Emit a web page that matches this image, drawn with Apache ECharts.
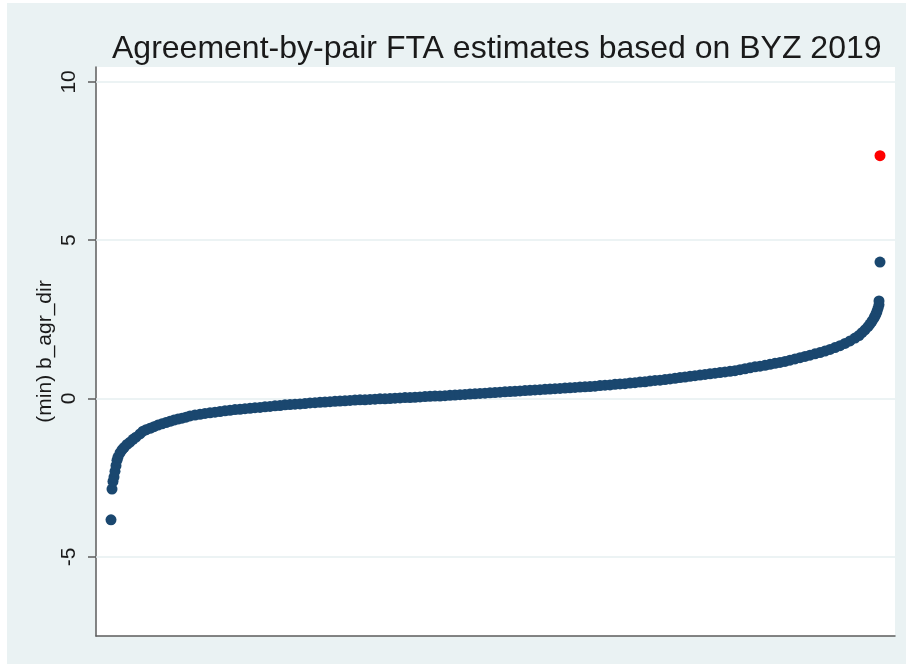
<!DOCTYPE html>
<html>
<head>
<meta charset="utf-8">
<script src="https://cdn.jsdelivr.net/npm/echarts@6/dist/echarts.min.js"></script>
<style>
  body { margin: 0; background: #fff; }
  #main { position: absolute; left: 7px; top: 3px; width: 899px; height: 661px; }
</style>
</head>
<body>
<div id="main"></div>
<script>
// rank of each estimate (sorted ascending) and its value
var ranks = [1, 2, 3, 4, 5, 6, 7, 8, 10, 12, 14, 17, 20, 23, 26, 30, 33, 36, 40, 44,
    48, 52, 56, 60, 64, 68, 72, 76, 80, 85, 90, 95, 100, 105, 110, 115, 120, 125, 130, 135,
    140, 145, 150, 155, 160, 165, 170, 175, 180, 185, 190, 195, 200, 205, 210, 215, 220, 225, 230, 235,
    240, 245, 250, 255, 260, 265, 270, 275, 280, 285, 290, 295, 300, 305, 310, 315, 320, 325, 330, 335,
    340, 345, 350, 355, 360, 365, 370, 375, 380, 385, 390, 395, 400, 405, 410, 415, 420, 425, 430, 435,
    440, 445, 450, 455, 460, 465, 470, 475, 480, 485, 490, 495, 500, 505, 510, 515, 520, 525, 530, 535,
    540, 545, 550, 555, 560, 565, 570, 575, 580, 585, 590, 595, 600, 605, 610, 615, 620, 625, 630, 635,
    640, 645, 650, 655, 660, 665, 670, 675, 680, 685, 690, 695, 700, 705, 710, 715, 720, 725, 730, 735,
    740, 745, 749, 752, 755, 758, 760, 762, 764, 765, 766, 767, 768, 769, 769, 770];
var values = [-3.83, -2.86, -2.62, -2.48, -2.30, -2.12, -1.95, -1.85, -1.72, -1.62, -1.55, -1.45, -1.38, -1.29, -1.22, -1.12, -1.03, -0.99, -0.94, -0.89,
    -0.84, -0.80, -0.76, -0.72, -0.68, -0.65, -0.62, -0.59, -0.55, -0.52, -0.50, -0.47, -0.45, -0.43, -0.41, -0.39, -0.37, -0.35, -0.34, -0.32,
    -0.31, -0.29, -0.28, -0.26, -0.25, -0.23, -0.22, -0.20, -0.19, -0.18, -0.17, -0.16, -0.14, -0.13, -0.12, -0.11, -0.10, -0.09, -0.08, -0.07,
    -0.06, -0.05, -0.04, -0.04, -0.03, -0.02, -0.01, -0.01, 0.00, 0.01, 0.02, 0.03, 0.03, 0.04, 0.05, 0.06, 0.07, 0.08, 0.08, 0.09,
    0.10, 0.11, 0.12, 0.13, 0.14, 0.15, 0.16, 0.17, 0.18, 0.19, 0.20, 0.21, 0.22, 0.23, 0.24, 0.25, 0.26, 0.27, 0.28, 0.29,
    0.30, 0.31, 0.32, 0.33, 0.34, 0.35, 0.36, 0.37, 0.38, 0.39, 0.41, 0.42, 0.43, 0.45, 0.46, 0.47, 0.49, 0.50, 0.52, 0.53,
    0.55, 0.57, 0.58, 0.60, 0.62, 0.64, 0.66, 0.68, 0.70, 0.72, 0.74, 0.76, 0.78, 0.80, 0.82, 0.84, 0.86, 0.88, 0.91, 0.94,
    0.97, 1.00, 1.02, 1.05, 1.08, 1.11, 1.14, 1.17, 1.21, 1.25, 1.29, 1.33, 1.37, 1.41, 1.45, 1.50, 1.55, 1.61, 1.67, 1.74,
    1.82, 1.91, 1.99, 2.08, 2.17, 2.27, 2.35, 2.44, 2.54, 2.60, 2.67, 2.75, 2.85, 2.96, 3.08, 4.31];
// highlighted estimate
var hiRanks = [770];
var hiValues = [7.67];
var yTicks = [-5, 0, 5, 10];

var navy = '#1A476F';
var ink = '#1a1a1a';

var mainData = [];
for (var i = 0; i < ranks.length; i++) {
    mainData.push([ranks[i], values[i]]);
}
var hiData = [];
for (var j = 0; j < hiRanks.length; j++) {
    hiData.push([hiRanks[j], hiValues[j]]);
}
var gridLines = yTicks.map(function (v) { return { yAxis: v }; });

var chart = echarts.init(document.getElementById('main'));
chart.setOption({
    backgroundColor: '#EAF2F3',
    animation: false,
    title: {
        text: 'Agreement-by-pair FTA estimates based on BYZ 2019',
        left: 100,
        top: 25,
        textStyle: {
            fontFamily: 'Liberation Sans',
            fontSize: 32,
            fontWeight: 'normal',
            color: ink
        }
    },
    grid: {
        left: 89,
        top: 64,
        width: 799,
        height: 569,
        show: true,
        backgroundColor: '#ffffff',
        borderWidth: 0
    },
    xAxis: {
        type: 'value',
        min: -14,
        max: 785,
        axisLine: { show: true, onZero: false, lineStyle: { color: '#5c5c5c', width: 1.5 } },
        axisTick: { show: false },
        axisLabel: { show: false },
        splitLine: { show: false }
    },
    yAxis: {
        type: 'value',
        min: -7.5,
        max: 10.47,
        name: '(min) b_agr_dir',
        nameLocation: 'middle',
        nameGap: 40,
        nameMoveOverlap: false,
        nameRotate: 90,
        nameTextStyle: { fontFamily: 'Liberation Sans', fontSize: 21, color: ink },
        axisLine: { show: true, onZero: false, lineStyle: { color: '#5c5c5c', width: 1.5 } },
        axisTick: { show: true, length: 8, customValues: yTicks, lineStyle: { color: '#5c5c5c', width: 1.5 } },
        axisLabel: {
            customValues: yTicks,
            rotate: 90,
            margin: 16,
            fontFamily: 'Liberation Sans',
            fontSize: 21,
            color: ink
        },
        splitLine: { show: false }
    },
    series: [{
        type: 'scatter',
        data: mainData,
        symbolSize: 11,
        itemStyle: { color: navy, opacity: 1 },
        z: 3,
        markLine: {
            silent: true,
            symbol: 'none',
            z: 1,
            label: { show: false },
            lineStyle: { color: '#E6EFF0', width: 1.5, type: 'solid' },
            data: gridLines
        }
    }, {
        type: 'scatter',
        data: hiData,
        symbolSize: 11,
        itemStyle: { color: '#ff0000', opacity: 1 },
        z: 4
    }]
});
</script>
</body>
</html>
